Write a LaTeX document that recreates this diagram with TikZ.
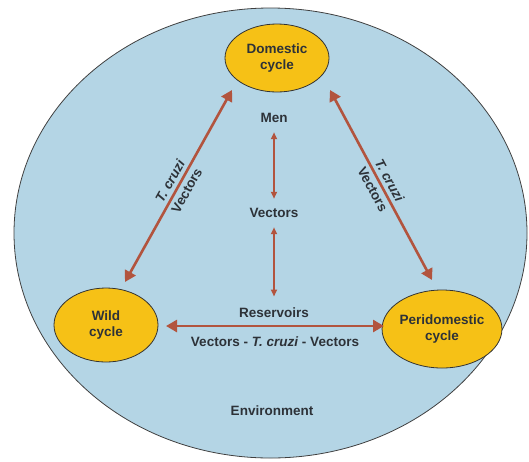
\documentclass[tikz,border=0pt]{standalone}
\usepackage{fontspec}
\setmainfont{Liberation Sans}
\usetikzlibrary{arrows.meta,shapes.geometric}
\definecolor{envblue}{RGB}{180,213,229}
\definecolor{cyclegold}{RGB}{246,193,22}
\definecolor{arrowred}{RGB}{178,84,62}
\definecolor{labelgray}{RGB}{45,50,56}

\begin{document}
\begin{tikzpicture}[x=1pt,y=-1pt,
		lbl/.style={font=\fontsize{13.5}{16}\selectfont\bfseries, text=labelgray, align=center},
		cyclenode/.style={ellipse, draw=black!80, line width=0.8pt, fill=cyclegold, inner sep=0pt, lbl},
		link/.style={draw=arrowred, line width=2.6pt, {Triangle[width=12pt,length=11pt]}-{Triangle[width=12pt,length=11pt]}},
		thinlink/.style={draw=arrowred, line width=1.8pt, {Triangle[width=6pt,length=7pt]}-{Triangle[width=6pt,length=7pt]}}]
		\useasboundingbox (0,0) rectangle (529,461);
		% environment
		\draw[draw=black!75, line width=0.8pt, fill=envblue] (270.5,233) ellipse [x radius=256.5, y radius=225];
		\node[lbl] (env) at (272,411) {Environment};
		% the three cycles
		\node[cyclenode, minimum width=104pt, minimum height=68pt] (dom) at (277,58) {Domestic\\cycle};
		\node[cyclenode, minimum width=104pt, minimum height=74pt] (wild) at (106,325) {Wild\\cycle};
		\node[cyclenode, minimum width=102pt, minimum height=78pt] (peri) at (442,329) {Peridomestic\\cycle};
		% middle labels
		\node[lbl] (men) at (274,118) {Men};
		\node[lbl] (vec) at (274,213) {Vectors};
		\node[lbl] (res) at (274,313) {Reservoirs};
		% arrow ends
		\coordinate (wildtop) at (125,282);
		\coordinate (domleft) at (232,90);
		\coordinate (domright) at (330,90);
		\coordinate (peritop) at (432,280);
		\coordinate (wildright) at (166,326);
		\coordinate (perileft) at (384,326);
		\draw[link] (wildtop) -- (domleft)
			node[midway, sloped, above=2.5pt, inner sep=1pt, lbl] {\itshape T. cruzi}
			node[midway, sloped, below=2.5pt, inner sep=1pt, lbl] {Vectors};
		\draw[link] (domright) -- (peritop)
			node[midway, sloped, above=2.5pt, inner sep=1pt, lbl] {\itshape T. cruzi}
			node[midway, sloped, below=2.5pt, inner sep=1pt, lbl] {Vectors};
		\draw[link] (wildright) -- (perileft)
			node[midway, below=6pt, lbl] {Vectors - \textit{T. cruzi} - Vectors};
		\draw[thinlink, shorten <=6pt, shorten >=6pt] (men.south) -- (vec.north);
		\draw[thinlink, shorten <=6pt, shorten >=8pt] (vec.south) -- (res.north);
\end{tikzpicture}
\end{document}
